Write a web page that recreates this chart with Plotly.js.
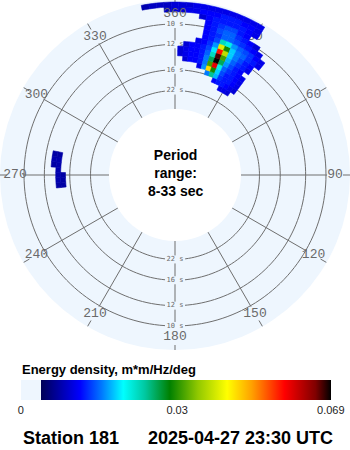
<!DOCTYPE html>
<html><head><meta charset="utf-8">
<script src="https://cdn.plot.ly/plotly-3.0.1.min.js"></script>
<style>html,body{margin:0;padding:0;background:#fff}#chart{width:350px;height:450px}</style>
</head><body><div id="chart"></div>
<script>
// ---- data ----
// frequency band centres (Hz), each band 0.004 Hz wide
var freqs = [0.056,0.060,0.064,0.068,0.072,0.076,0.080,0.084,0.088,0.092,0.096,0.100,0.104,0.108,0.112,0.116];
// direction bin centres (deg, from north, clockwise), each 2.5 deg wide
var dirs = [-10,-7.5,-5,-2.5,0,2.5,5,7.5,10,12.5,15,17.5,20,22.5,25,27.5,30,32.5,35,37.5];
// energy density (m*m/Hz/deg), rows follow freqs, columns follow dirs
var energy = [
 [0,0,0,0,0,0,0,0,0,0,0,0,0,0,0,.012,.012,.011,0,0],
 [0,0,0,0,0,0,0,0,0,0,0,0,0,.013,.014,.014,.013,.012,.011,0],
 [0,0,0,0,0,0,0,0,0,0,0,.018,.028,.020,.015,.014,.014,.013,.012,0],
 [0,0,0,0,0,0,0,0,0,.012,.019,.048,.034,.021,.016,.014,.014,.013,.012,0],
 [0,0,0,0,0,0,.011,.013,.013,.014,.018,.036,.060,.024,.017,.015,.014,.013,.012,0],
 [0,0,0,0,0,.011,.012,.013,.013,.014,.018,.030,.069,.030,.019,.016,.014,.013,0,0],
 [0,0,0,0,0,.011,.012,.013,.013,.014,.017,.026,.067,.036,.020,.017,.015,.014,.012,0],
 [0,0,0,0,0,0,.011,.013,.013,.014,.016,.022,.058,.042,.021,.018,.016,.014,.013,0],
 [0,0,0,0,0,0,0,0,.012,.013,.015,.019,.044,.034,.021,.018,.017,.015,.014,.012],
 [0,0,0,0,0,0,0,0,0,.013,.014,.016,.026,.024,.019,.017,.016,.015,.013,.012],
 [0,0,0,0,0,0,0,0,0,.013,.014,.015,.017,.017,.016,.015,.014,.013,.012,0],
 [0,0,0,0,0,0,0,0,0,.013,.014,.016,.017,.017,.015,.014,.013,.011,0,0],
 [0,0,0,0,0,0,0,0,0,.013,.014,.015,.016,.016,.014,.013,0,0,0,0],
 [0,0,0,0,0,0,0,0,.011,.013,.014,.014,.014,.014,.014,.013,.012,0,0,0],
 [0,0,0,.010,.011,.011,.012,.012,.013,.013,.013,.014,.014,.014,.013,.013,.012,0,0,0],
 [.009,.010,.010,.010,.011,.011,.011,.012,.012,.012,.012,.012,.012,.012,.012,.012,.012,0,0,0]
];
// small westerly patch
var freqsW = [0.068,0.072,0.076];
var dirsW = [265,267.5,270,272.5,275,277.5,280];
var energyW = [
 [.0085,.0085,.0085,0,0,0,0],
 [.0085,.009,.009,.009,.009,.009,.0085],
 [0,0,0,0,.0085,.009,.0085]
];
// axes
var periods = [22,16,12,10];
var ringLabels = ['22 s','16 s','12 s','10 s'];
var angleTicks = [30,60,90,120,150,210,240,270,300,330];
var angleLabels = ['30','60','90','120','150','210','240','270','300','330'];
var axisTicks = [0,180];
var axisLabels = ['360','180'];
var cbTickVals = [0,0.0348,0.069];
var cbTickText = ['0','0.03','0.069'];

// ---- layout constants ----
var R_PX = 175, HOLE = 0.377, F_IN = 1/33, F_OUT = 0.11969, BIN_DF = 0.004, BIN_DD = 2.5;
var CMAX = 0.069;
function fToPx(f){return R_PX*(HOLE+(1-HOLE)*(f-F_IN)/(F_OUT-F_IN));}
function pxToF(px){return F_IN+(px/R_PX-HOLE)/(1-HOLE)*(F_OUT-F_IN);}
var gridColor = '#6e6e6e';
var CS = [[0,'#eef6fe'],[0.066,'#eef6fe'],[0.0661,'#000058'],[0.19,'#0000ff'],[0.26,'#0078ff'],[0.33,'#00ffff'],[0.40,'#00c8a0'],[0.48,'#008000'],[0.57,'#90c800'],[0.665,'#ffff00'],[0.745,'#ffa000'],[0.85,'#ff0000'],[0.95,'#800000'],[1,'#000000']];

// rings with gaps for labels
var ringR=[], ringT=[];
periods.forEach(function(p){
  var f=1/p, gap=10/fToPx(f)*180/Math.PI;
  [[gap,180-gap],[180+gap,360-gap]].forEach(function(s){
    for(var t=s[0];t<s[1];t+=2){ringT.push(t);ringR.push(f);}
    ringT.push(s[1]);ringR.push(f);ringT.push(null);ringR.push(null);
  });
});
// spokes with gaps
var spR=[], spT=[];
function seg(t,a,b){spT.push(t,t,null);spR.push(a,b,null);}
axisTicks.concat(angleTicks).forEach(function(a){
  var inner=pxToF(152), outer=pxToF(168);
  if(a%180===0){
    var stops=[F_IN];
    periods.forEach(function(p){var px=fToPx(1/p);stops.push(pxToF(px-4),pxToF(px+4));});
    for(var i=0;i<stops.length-1;i+=2){seg(a,stops[i],Math.min(stops[i+1],inner));}
    outer=pxToF(170);
  } else {
    seg(a,F_IN,inner);
  }
  seg(a,outer,F_OUT);
});

// cells
var bT=[],bB=[],bR=[],bW=[],bC=[];
function addCells(fs,ds,grid){
  fs.forEach(function(f,i){ds.forEach(function(d,j){var v=grid[i][j];if(v>0){bT.push(d);bB.push(f-BIN_DF/2);bR.push(BIN_DF);bW.push(BIN_DD);bC.push(v);}});});
}
addCells(freqs,dirs,energy);
addCells(freqsW,dirsW,energyW);

var labFont = {family:'Liberation Mono, DejaVu Sans Mono, monospace',size:13,color:'#6a6a6a'};
var traces = [
 {type:'scatterpolar',subplot:'polar',mode:'lines',r:ringR,theta:ringT,line:{color:gridColor,width:1},hoverinfo:'skip'},
 {type:'scatterpolar',subplot:'polar',mode:'lines',r:spR,theta:spT,line:{color:gridColor,width:1},hoverinfo:'skip'},
 {type:'scatterpolar',subplot:'polar',mode:'text',r:angleTicks.map(function(){return pxToF(160);}),theta:angleTicks,text:angleLabels,
  textfont:labFont,hoverinfo:'skip'},
 {type:'scatterpolar',subplot:'polar',mode:'text',r:periods.map(function(p){return 1/p;}).concat(periods.map(function(p){return 1/p;})),
  theta:periods.map(function(){return 0;}).concat(periods.map(function(){return 180;})),text:ringLabels.concat(ringLabels),
  textfont:{family:'DejaVu Sans Mono, monospace',size:7,color:'#6a6a6a'},hoverinfo:'skip'},
 {type:'barpolar',subplot:'polar2',theta:bT,r:bR,base:bB,width:bW,hoverinfo:'skip',
  marker:{color:bC,colorscale:CS,cmin:0,cmax:CMAX,
   line:{width:0.6,color:bC,colorscale:CS,cmin:0,cmax:CMAX},
   showscale:true,
   colorbar:{orientation:'h',x:175.8/350,xanchor:'center',y:1-412/450,yanchor:'bottom',
    thickness:20,thicknessmode:'pixels',len:310.3,lenmode:'pixels',outlinewidth:0,xpad:0,ypad:0,
    tickvals:cbTickVals,ticktext:cbTickText,ticks:'',
    tickfont:{family:'Liberation Sans, Arial, sans-serif',size:11,color:'#222'}}}},
 {type:'scatterpolar',subplot:'polar2',mode:'text',r:axisTicks.map(function(){return pxToF(161.5);}),theta:axisTicks,text:axisLabels,
  textfont:labFont,hoverinfo:'skip'}
];
var ax = {
  radialaxis:{range:[F_IN,F_OUT],autorange:false,showgrid:false,showline:false,showticklabels:false,ticks:''},
  angularaxis:{rotation:90,direction:'clockwise',showgrid:false,showline:false,showticklabels:false,ticks:''}
};
var dom = {x:[0,1],y:[1-350/450,1]};
var layout = {
  width:350,height:450,margin:{l:0,r:0,t:0,b:0},paper_bgcolor:'#fff',showlegend:false,
  polar:Object.assign({domain:dom,bgcolor:'#eef6fe',hole:HOLE},JSON.parse(JSON.stringify(ax))),
  polar2:Object.assign({domain:dom,bgcolor:'rgba(0,0,0,0)',hole:HOLE},JSON.parse(JSON.stringify(ax))),
  annotations:[
   {text:'<b>Period<br>range:<br>8-33 sec</b>',x:0.5,y:1-173/450,xref:'paper',yref:'paper',showarrow:false,
    font:{family:'Liberation Sans, Arial, sans-serif',size:14,color:'#000'}},
   {text:'<b>Energy density, m*m/Hz/deg</b>',x:19.5/350,xanchor:'left',y:1-369/450,yanchor:'middle',xref:'paper',yref:'paper',showarrow:false,
    font:{family:'Liberation Sans, Arial, sans-serif',size:13,color:'#000'}},
   {text:'<b>Station 181</b>',x:20.5/350,xanchor:'left',y:1-437.5/450,yanchor:'middle',xref:'paper',yref:'paper',showarrow:false,
    font:{family:'Liberation Sans, Arial, sans-serif',size:18,color:'#000'}},
   {text:'<b>2025-04-27 23:30 UTC</b>',x:334.5/350,xanchor:'right',y:1-437.5/450,yanchor:'middle',xref:'paper',yref:'paper',showarrow:false,
    font:{family:'Liberation Sans, Arial, sans-serif',size:18,color:'#000'}}
  ]
};
Plotly.newPlot('chart',traces,layout,{staticPlot:true,displayModeBar:false});
</script></body></html>
